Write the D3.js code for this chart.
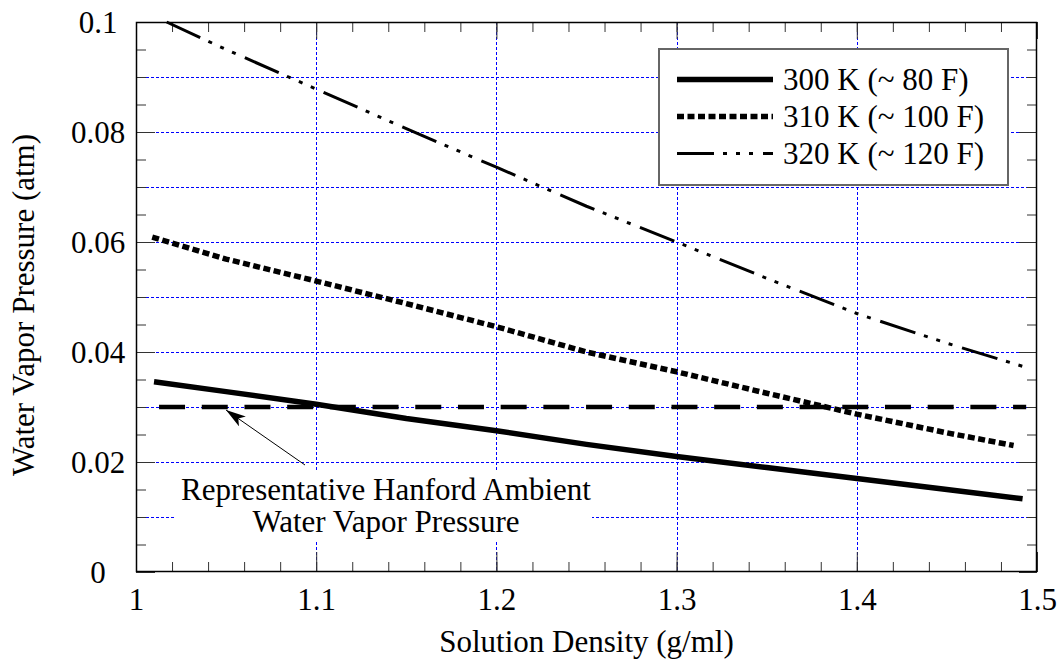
<!DOCTYPE html>
<html>
<head>
<meta charset="utf-8">
<script src="https://cdn.jsdelivr.net/npm/d3@7"></script>
<style>
  html, body { margin: 0; padding: 0; background: #fff; }
  svg { display: block; }
  text { font-family: "Liberation Serif", "Times New Roman", serif; fill: #000; }
</style>
</head>
<body>
<svg id="chart" width="1063" height="666"></svg>
<script>
// ---- data ----
const density300 = [1.010, 1.05, 1.10, 1.15, 1.20, 1.25, 1.30, 1.35, 1.40, 1.45, 1.492];
const vp300      = [0.0346, 0.0328, 0.0305, 0.0279, 0.0257, 0.0232, 0.0210, 0.0190, 0.0170, 0.0150, 0.0133];
const density310 = [1.009, 1.05, 1.10, 1.15, 1.20, 1.25, 1.30, 1.35, 1.40, 1.45, 1.487];
const vp310      = [0.0609, 0.0569, 0.0529, 0.0488, 0.0446, 0.0400, 0.0364, 0.0325, 0.0287, 0.0253, 0.0230];
const density320 = [1.017, 1.05, 1.10, 1.15, 1.20, 1.25, 1.30, 1.35, 1.40, 1.45, 1.495];
const vp320      = [0.1000, 0.0950, 0.0878, 0.0806, 0.0736, 0.0665, 0.0600, 0.0534, 0.0470, 0.0416, 0.0371];
const ambientDensity = [1.0128, 1.494];
const ambientVP      = [0.03, 0.03];
const seriesNames = ["300 K (~ 80 F)", "310 K (~ 100 F)", "320 K (~ 120 F)"];
const xTickValues = [1, 1.1, 1.2, 1.3, 1.4, 1.5];
const xTickLabels = ["1", "1.1", "1.2", "1.3", "1.4", "1.5"];
const yTickValues = [0, 0.02, 0.04, 0.06, 0.08, 0.1];
const yTickLabels = ["0", "0.02", "0.04", "0.06", "0.08", "0.1"];
const xGridValues = [1.1, 1.2, 1.3, 1.4];
const yGridValues = [0.01, 0.02, 0.03, 0.04, 0.05, 0.06, 0.07, 0.08, 0.09];
const xMinorValues = d3.range(0, 26).map(i => 1 + i * 0.02);
const yMinorValues = d3.range(0, 21).map(i => i * 0.005);
const xTitle = "Solution Density (g/ml)";
const yTitle = "Water Vapor Pressure (atm)";
const annotationLines = ["Representative Hanford Ambient", "Water Vapor Pressure"];

// ---- layout ----
const L = 136, R = 1037, T = 22, B = 572;
const FS = 31;
const svg = d3.select("#chart");
const x = d3.scaleLinear().domain([1, 1.5]).range([L, R]);
const y = d3.scaleLinear().domain([0, 0.1]).range([B, T]);

// gridlines
const grid = svg.append("g").attr("stroke", "#0000ff").attr("stroke-width", 1).attr("stroke-dasharray", "3,2").attr("fill", "none");
grid.selectAll("line.gx").data(xGridValues).join("line")
  .attr("x1", d => Math.round(x(d)) + 0.5).attr("x2", d => Math.round(x(d)) + 0.5)
  .attr("y1", T).attr("y2", B);
grid.selectAll("line.gy").data(yGridValues).join("line")
  .attr("y1", d => Math.round(y(d)) + 0.5).attr("y2", d => Math.round(y(d)) + 0.5)
  .attr("x1", L).attr("x2", R);

// annotation white box
svg.append("rect").attr("x", 176).attr("y", 470).attr("width", 416).attr("height", 71).attr("fill", "#fff");

// axes: minor ticks
function styleAxis(g) {
  g.select(".domain").remove();
  g.selectAll(".tick line").attr("stroke", "#333").attr("stroke-width", 1);
}
svg.append("g").attr("transform", `translate(0,${B})`)
  .call(d3.axisBottom(x).tickValues(xMinorValues).tickSize(-10).tickFormat(""))
  .call(styleAxis);
svg.append("g").attr("transform", `translate(0,${T})`)
  .call(d3.axisTop(x).tickValues(xMinorValues).tickSize(-10).tickFormat(""))
  .call(styleAxis);
svg.append("g").attr("transform", `translate(${L},0)`)
  .call(d3.axisLeft(y).tickValues(yMinorValues).tickSize(-10).tickFormat(""))
  .call(styleAxis);
svg.append("g").attr("transform", `translate(${R},0)`)
  .call(d3.axisRight(y).tickValues(yMinorValues).tickSize(-10).tickFormat(""))
  .call(styleAxis);

// axes: major ticks with labels
const xAxisG = svg.append("g").attr("transform", `translate(0,${B})`)
  .call(d3.axisBottom(x).tickValues(xTickValues).tickSize(-20).tickFormat((d, i) => xTickLabels[i]))
  .call(styleAxis);
xAxisG.selectAll(".tick text").attr("y", 38).attr("dy", 0)
  .style("font-size", FS + "px").style("font-family", '"Liberation Serif","Times New Roman",serif').attr("fill", "#000");
svg.append("g").attr("transform", `translate(0,${T})`)
  .call(d3.axisTop(x).tickValues(xTickValues).tickSize(-17).tickFormat(""))
  .call(styleAxis);
const yAxisG = svg.append("g").attr("transform", `translate(${L},0)`)
  .call(d3.axisLeft(y).tickValues(yTickValues).tickSize(-19).tickFormat((d, i) => yTickLabels[i]))
  .call(styleAxis);
yAxisG.selectAll(".tick text").attr("x", -38).attr("dy", "0.34em").attr("text-anchor", "middle")
  .style("font-size", FS + "px").style("font-family", '"Liberation Serif","Times New Roman",serif').attr("fill", "#000");
svg.append("g").attr("transform", `translate(${R},0)`)
  .call(d3.axisRight(y).tickValues(yTickValues).tickSize(-18).tickFormat(""))
  .call(styleAxis);

// frame
svg.append("rect").attr("x", L + 0.5).attr("y", T + 0.5).attr("width", R - L - 1).attr("height", B - T - 1)
  .attr("fill", "none").attr("stroke", "#000").attr("stroke-width", 1.5);

// data lines
const line = d3.line().x(d => x(d[0])).y(d => y(d[1]));
const styles = [
  { w: 5.5, dash: null },
  { w: 5.5, dash: "7,3.5" },
  { w: 3, dash: "37,9,4,9,4,9,4,10" }
];
const series = [
  d3.zip(density300, vp300),
  d3.zip(density310, vp310),
  d3.zip(density320, vp320)
];
// ambient dashed
svg.append("path").datum(d3.zip(ambientDensity, ambientVP))
  .attr("d", line).attr("fill", "none").attr("stroke", "#000").attr("stroke-width", 4.5)
  .attr("stroke-dasharray", "26,16.7");
series.forEach((s, i) => {
  svg.append("path").datum(s).attr("d", line).attr("fill", "none")
    .attr("stroke", "#000").attr("stroke-width", styles[i].w)
    .attr("stroke-dasharray", styles[i].dash).attr("stroke-linejoin", "round");
});

// annotation arrow
svg.append("defs").append("marker").attr("id", "ah")
  .attr("viewBox", "0 0 20 12").attr("refX", 20).attr("refY", 6)
  .attr("markerWidth", 20).attr("markerHeight", 12).attr("markerUnits", "userSpaceOnUse")
  .attr("orient", "auto")
  .append("path").attr("d", "M0,0 L20,6 L0,12 L5,6 Z").attr("fill", "#000");
svg.append("line").attr("x1", 305).attr("y1", 465).attr("x2", 226).attr("y2", 410)
  .attr("stroke", "#000").attr("stroke-width", 1).attr("marker-end", "url(#ah)");
svg.append("g").selectAll("text").data(annotationLines).join("text")
  .attr("x", 386).attr("y", (d, i) => 500 + i * 32).attr("text-anchor", "middle")
  .style("font-size", FS + "px").text(d => d);

// legend
const lg = svg.append("g");
lg.append("rect").attr("x", 659).attr("y", 49).attr("width", 349).attr("height", 136)
  .attr("fill", "#fff").attr("stroke", "#666").attr("stroke-width", 2);
seriesNames.forEach((name, i) => {
  const by = 90 + i * 37;
  lg.append("path").datum([[677, by - 10.5], [773, by - 10.5]])
    .attr("d", d3.line()).attr("fill", "none").attr("stroke", "#000")
    .attr("stroke-width", styles[i].w).attr("stroke-dasharray", styles[i].dash);
  lg.append("text").attr("x", 783).attr("y", by).style("font-size", FS + "px").text(name);
});

// axis titles
svg.append("text").attr("x", (L + R) / 2).attr("y", 652).attr("text-anchor", "middle")
  .style("font-size", FS + "px").text(xTitle);
svg.append("text").attr("transform", "translate(34,305) rotate(-90)").attr("text-anchor", "middle")
  .style("font-size", FS + "px").text(yTitle);
</script>
</body>
</html>
